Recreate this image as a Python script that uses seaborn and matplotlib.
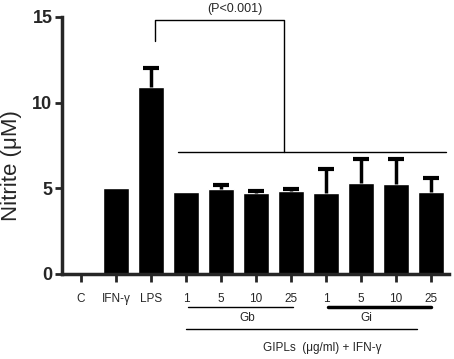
import numpy as np
import pandas as pd
import matplotlib
matplotlib.use("Agg")
import matplotlib.pyplot as plt
import seaborn as sns

# data
groups = ["C", "IFN-γ", "LPS", "Gb 1", "Gb 5", "Gb 10", "Gb 25", "Gi 1", "Gi 5", "Gi 10", "Gi 25"]
tick_labels = ["C", "IFN-γ", "LPS", "1", "5", "10", "25", "1", "5", "10", "25"]
nitrite = [0.05, 5.0, 10.9, 4.8, 4.95, 4.72, 4.85, 4.7, 5.3, 5.25, 4.8]
sem = [0.0, 0.0, 1.1, 0.0, 0.25, 0.12, 0.12, 1.4, 1.4, 1.45, 0.8]

df = pd.DataFrame({"group": groups, "nitrite": nitrite, "sem": sem})

sns.set_style("ticks")
plt.rcParams["font.family"] = ["Liberation Sans", "DejaVu Sans"]

fig = plt.figure(figsize=(4.54, 3.59), dpi=100)
ax = fig.add_axes([0.137, 0.237, 0.852, 0.716])

sns.barplot(data=df, x="group", y="nitrite", order=groups, color="black",
            width=0.75, errorbar=None, saturation=1, ax=ax)

# upper error bars only
x = np.arange(len(groups))
has_err = (df["sem"] > 0).values
_, caps, _ = ax.errorbar(x[has_err], df["nitrite"][has_err],
                         yerr=[np.zeros(has_err.sum()), df["sem"][has_err]],
                         fmt="none", ecolor="black", elinewidth=2.5,
                         capsize=6, capthick=3)
caps[0].set_visible(False)

ax.set_xlim(-0.54, 10.51)
ax.set_ylim(0, 15)
ax.set_yticks([0, 5, 10, 15])
ax.set_yticklabels(["0", "5", "10", "15"], fontsize=13, fontweight="bold")
ax.set_xticks(x)
ax.set_xticklabels(tick_labels, fontsize=8.5)
ax.tick_params(axis="x", length=6, width=2, pad=8)
ax.tick_params(axis="y", length=5, width=2, pad=2)
ax.set_xlabel("")
ax.set_ylabel("Nitrite (μM)", fontsize=16)
ax.yaxis.set_label_coords(-0.105, 0.42)
sns.despine(ax=ax)
for s in ["left", "bottom"]:
    ax.spines[s].set_linewidth(2.5)

# significance bracket
ax.plot([2.1, 2.1, 5.8, 5.8], [13.6, 14.8, 14.8, 7.1], color="black", lw=1, clip_on=False)
ax.plot([2.77, 10.43], [7.1, 7.1], color="black", lw=1, clip_on=False)
ax.text(4.4, 15.45, "(P<0.001)", ha="center", va="center", fontsize=9)

# group annotations under the axis
ax.plot([3.05, 6.05], [-1.93, -1.93], color="black", lw=1, clip_on=False)
ax.plot([7.05, 10.0], [-1.93, -1.93], color="black", lw=2.5, clip_on=False)
ax.text(4.75, -2.55, "Gb", ha="center", va="center", fontsize=8.5)
ax.text(8.15, -2.55, "Gi", ha="center", va="center", fontsize=8.5)
ax.plot([3.0, 9.6], [-3.2, -3.2], color="black", lw=1, clip_on=False)
ax.text(6.9, -4.3, "GIPLs  (μg/ml) + IFN-γ", ha="center", va="center", fontsize=8.5)

fig.savefig("out.png", dpi=100)
